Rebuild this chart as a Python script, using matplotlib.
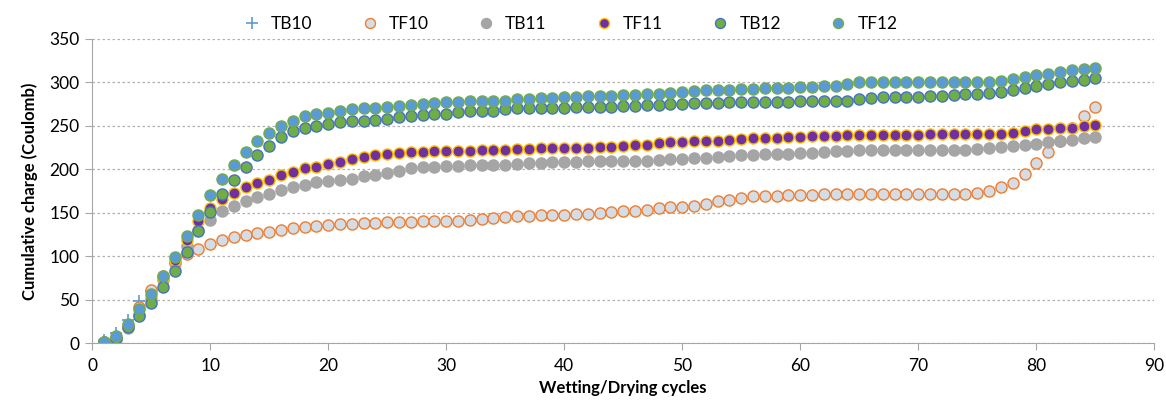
import matplotlib
matplotlib.use("Agg")
import matplotlib.pyplot as plt

plt.rcParams["font.family"] = ["Lato", "DejaVu Sans"]

cycles = list(range(1, 86))

tb10_cycles = [1, 2, 3, 4, 5]
tb10 = [3, 12, 26, 48, 60]

tf10 = [0, 5, 20, 42, 61, 77, 92, 102, 108, 114,
        119, 122, 124, 127, 128, 130, 132, 133, 135, 136,
        137, 137, 138, 138, 139, 139, 139, 140, 140, 141,
        141, 142, 143, 144, 145, 146, 146, 147, 147, 147,
        148, 149, 150, 151, 152, 152, 153, 155, 156, 157,
        158, 160, 163, 165, 167, 169, 169, 169, 170, 170,
        170, 171, 171, 171, 172, 172, 172, 172, 172, 172,
        172, 172, 172, 172, 173, 175, 179, 184, 194, 207,
        220, 233, 247, 261, 272]

tb11 = [1, 5, 17, 32, 50, 73, 93, 112, 130, 142,
        152, 158, 164, 168, 172, 176, 179, 182, 185, 187,
        188, 189, 192, 193, 196, 198, 201, 203, 203, 204,
        204, 205, 205, 205, 205, 206, 207, 207, 208, 208,
        208, 209, 209, 210, 210, 210, 210, 211, 212, 212,
        213, 213, 214, 215, 216, 216, 217, 217, 218, 219,
        219, 220, 221, 221, 222, 222, 222, 222, 222, 222,
        222, 222, 222, 222, 223, 225, 226, 227, 228, 229,
        231, 232, 234, 236, 237]

tf11 = [1, 6, 18, 33, 52, 75, 95, 118, 140, 155,
        166, 173, 179, 184, 188, 193, 197, 201, 203, 206,
        208, 212, 214, 216, 218, 219, 220, 220, 221, 221,
        221, 221, 222, 222, 222, 223, 223, 224, 224, 225,
        225, 225, 226, 226, 227, 228, 228, 230, 231, 231,
        232, 232, 233, 234, 235, 236, 236, 236, 237, 237,
        238, 238, 238, 239, 239, 239, 239, 239, 239, 239,
        240, 240, 240, 240, 240, 240, 240, 242, 244, 246,
        246, 247, 248, 250, 251]

tb12 = [1, 6, 19, 31, 46, 64, 83, 105, 129, 151,
        171, 188, 203, 216, 227, 237, 244, 247, 250, 252,
        254, 255, 256, 257, 258, 260, 261, 262, 263, 264,
        266, 267, 267, 267, 269, 270, 270, 271, 271, 271,
        272, 272, 272, 272, 273, 273, 274, 274, 275, 275,
        276, 276, 276, 277, 277, 277, 277, 277, 277, 278,
        278, 278, 278, 279, 281, 282, 283, 283, 283, 283,
        284, 284, 285, 286, 287, 288, 289, 291, 294, 296,
        298, 300, 302, 303, 305]

tf12 = [1, 8, 22, 39, 56, 77, 99, 123, 147, 170,
        189, 205, 220, 232, 242, 250, 256, 261, 263, 265,
        267, 269, 270, 271, 272, 273, 274, 275, 276, 277,
        277, 278, 278, 278, 279, 281, 281, 282, 282, 283,
        283, 284, 284, 284, 285, 285, 286, 287, 288, 289,
        290, 291, 291, 291, 292, 292, 293, 294, 294, 295,
        295, 296, 296, 298, 300, 300, 300, 300, 300, 300,
        300, 300, 300, 300, 300, 300, 302, 304, 306, 308,
        310, 312, 314, 315, 316]

fig = plt.figure(figsize=(11.66, 4.05), dpi=100)
ax = fig.add_axes([0.079, 0.153, 0.911, 0.751])

ms = 8
mew = 1.0
ax.plot(tb10_cycles, tb10, linestyle="none", marker="+", markersize=9,
        markeredgewidth=1.2, color="#5B9BD5", label="TB10")
ax.plot(cycles, tf10, linestyle="none", marker="o", markersize=ms,
        markerfacecolor="#D6DCE4", markeredgecolor="#ED7D31",
        markeredgewidth=mew, label="TF10")
ax.plot(cycles, tb11, linestyle="none", marker="o", markersize=ms,
        markerfacecolor="#A5A5A5", markeredgecolor="#A5A5A5",
        markeredgewidth=mew, label="TB11")
ax.plot(cycles, tf11, linestyle="none", marker="o", markersize=ms,
        markerfacecolor="#7030A0", markeredgecolor="#FFC000",
        markeredgewidth=mew, label="TF11")
ax.plot(cycles, tb12, linestyle="none", marker="o", markersize=ms,
        markerfacecolor="#70AD47", markeredgecolor="#4472C4",
        markeredgewidth=mew, label="TB12")
ax.plot(cycles, tf12, linestyle="none", marker="o", markersize=ms,
        markerfacecolor="#5B9BD5", markeredgecolor="#70AD47",
        markeredgewidth=mew, label="TF12")

ax.set_xlim(0, 90)
ax.set_ylim(0, 350)
ax.set_xticks(range(0, 91, 10))
ax.set_yticks(range(0, 351, 50))
ax.yaxis.grid(True, color="#B0B0B0", linestyle=(0, (2, 2)), linewidth=0.9)
ax.set_axisbelow(True)

for side in ["top", "right"]:
    ax.spines[side].set_visible(False)
for side in ["left", "bottom"]:
    ax.spines[side].set_color("#A6A6A6")
ax.tick_params(axis="both", colors="#A6A6A6", labelcolor="black",
               labelsize=12.5, length=5, direction="out")
ax.tick_params(axis="x", pad=6)
ax.tick_params(axis="y", pad=4)

ax.set_xlabel("Wetting/Drying cycles", fontsize=12, fontweight="bold", labelpad=4)
ax.set_ylabel("Cumulative charge (Coulomb)", fontsize=12, fontweight="bold",
              labelpad=8)

ax.legend(loc="lower center", bbox_to_anchor=(0.446, 1.0), ncol=6, frameon=False,
          fontsize=12.5, handletextpad=0.1, columnspacing=2.3, markerscale=0.9,
          borderaxespad=0)

fig.savefig("out.png", dpi=100)
